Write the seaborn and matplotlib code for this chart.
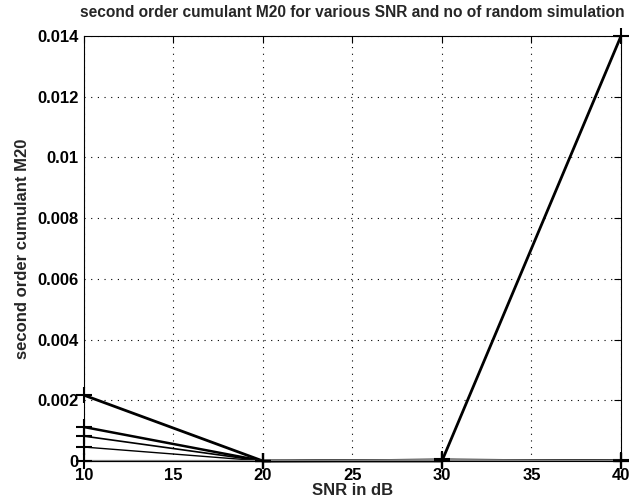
import matplotlib
matplotlib.use("Agg")
import matplotlib.pyplot as plt
import seaborn as sns
import pandas as pd

snr = [10, 20, 30, 40]
series_names = ["run1", "run2", "run3", "run4", "run5"]
s1 = [0.00217, 0.0, 0.0, 0.0140]
s2 = [0.00112, 0.0, 0.00002, 0.00001]
s3 = [0.00082, 0.0, 0.00004, 0.00002]
s4 = [0.00046, 0.0, 0.00006, 0.00001]
s5 = [0.0, 0.0, 0.00003, 0.0]
values = [s1, s2, s3, s4, s5]
colors = ["black", "black", "black", "black", "#888888"]
widths = [2.0, 1.8, 1.2, 1.0, 1.6]

xticks = [10, 15, 20, 25, 30, 35, 40]
yticks = [0, 0.002, 0.004, 0.006, 0.008, 0.01, 0.012, 0.014]
ytick_labels = ["0", "0.002", "0.004", "0.006", "0.008", "0.01", "0.012", "0.014"]

rows = []
for name, vals in zip(series_names, values):
    for x, y in zip(snr, vals):
        rows.append({"SNR": x, "M20": y, "series": name})
df = pd.DataFrame(rows)

sns.set_style("white")
plt.rcParams["font.family"] = ["Liberation Sans", "DejaVu Sans"]

fig = plt.figure(figsize=(6.35, 5.03), dpi=100)
ax = fig.add_axes([0.132, 0.0835, 0.846, 0.845])

for name, c, lw in zip(series_names, colors, widths):
    sub = df[df["series"] == name]
    sns.lineplot(data=sub, x="SNR", y="M20", ax=ax, color=c, linewidth=lw,
                 marker="+", markersize=12, markeredgewidth=1.5,
                 markeredgecolor="black", legend=False, clip_on=False)

ax.set_xlim(10, 40)
ax.set_ylim(0, 0.014)
ax.set_xticks(xticks)
ax.set_xticklabels([str(t) for t in xticks])
ax.set_yticks(yticks)
ax.set_yticklabels(ytick_labels)
ax.grid(True, linestyle=(0, (1, 5)), color="black", linewidth=0.8)
ax.tick_params(direction="in", length=5, width=0.8, top=True, right=True,
               labelsize=12, colors="black")
ax.tick_params(axis="x", pad=5)
ax.tick_params(axis="y", pad=4)
for lab in ax.get_xticklabels() + ax.get_yticklabels():
    lab.set_fontweight("bold")
for sp in ax.spines.values():
    sp.set_visible(True)
    sp.set_color("black")
    sp.set_linewidth(0.8)

ax.set_xlabel("SNR in dB", fontsize=12, fontweight="bold", labelpad=0)
ax.set_ylabel("second order cumulant M20", fontsize=12, fontweight="bold", labelpad=5)
ax.set_title("second order cumulant M20 for various SNR and no of random simulation",
             fontsize=11.2, fontweight="bold", pad=14)

fig.savefig("out.png", dpi=100)
